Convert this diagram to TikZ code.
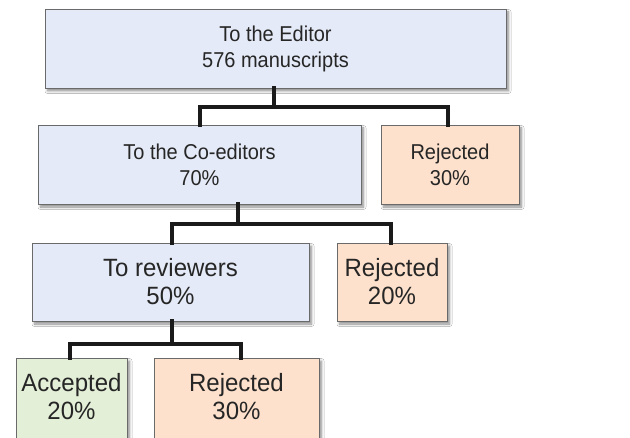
\documentclass[tikz,border=0pt]{standalone}
\usepackage{fontspec}
\setmainfont{Liberation Sans}
\newfontfamily\condtop[FakeStretch=0.93]{Liberation Sans}
\newfontfamily\condlow[FakeStretch=0.96]{Liberation Sans}
\usetikzlibrary{shadows.blur}
\definecolor{boxblue}{HTML}{E4EAF7}
\definecolor{boxorange}{HTML}{FDE1CC}
\definecolor{boxgreen}{HTML}{E3EFD6}
\definecolor{boxline}{HTML}{6A6A6A}
\definecolor{txt}{HTML}{262626}
\definecolor{conncol}{HTML}{1A1A1A}
\tikzset{
  flowbox/.style={draw=boxline, line width=0.9pt, inner sep=0pt, align=center,
    text=txt, blur shadow={shadow xshift=2.5pt, shadow yshift=-3pt, shadow blur steps=6, shadow opacity=45, shadow blur radius=2.5pt}},
  big/.style={font=\condtop\fontsize{21.5}{26}\selectfont},
  bigger/.style={font=\condlow\fontsize{25}{28}\selectfont},
  bluebox/.style={flowbox, fill=boxblue},
  orangebox/.style={flowbox, fill=boxorange},
  greenbox/.style={flowbox, fill=boxgreen},
  conn/.style={draw=conncol, line width=4pt, line cap=rect}
}
\begin{document}
\begin{tikzpicture}[x=1pt,y=-1pt]
\useasboundingbox (0,0) rectangle (630,438);
\fill[white] (0,0) rectangle (630,438);
\clip (0,0) rectangle (630,438);
\node[bluebox,big,minimum width=461pt,minimum height=79pt] (ed) at (275.5,48.5) {To the Editor\\576 manuscripts};
\node[bluebox,big,minimum width=323pt,minimum height=79pt] (coed) at (199.5,164.5) {To the Co-editors\\70\%};
\node[orangebox,big,minimum width=138pt,minimum height=79pt] (rej1) at (450,164.5) {Rejected\\30\%};
\node[bluebox,bigger,minimum width=277pt,minimum height=78pt] (rev) at (170.5,282) {To reviewers\\50\%};
\node[orangebox,bigger,minimum width=110pt,minimum height=78pt] (rej2) at (392,282) {Rejected\\20\%};
\node[greenbox,bigger,minimum width=111pt,minimum height=84pt,text depth=6.5pt] (acc) at (71.5,400) {Accepted\\20\%};
\node[orangebox,bigger,minimum width=165pt,minimum height=84pt,text depth=6.5pt] (rej3) at (236.5,400) {Rejected\\30\%};
% level 1
\draw[conn] ([xshift=-1.5pt]ed.south) -- ++(0,19) coordinate (b1);
\draw[conn] (coed.north) |- (b1) -| ([xshift=-2pt]rej1.north);
% level 2
\draw[conn] ([xshift=38.5pt]coed.south) -- ++(0,20) coordinate (b2);
\draw[conn] ([xshift=1.5pt]rev.north) |- (b2) -| ([xshift=-1pt]rej2.north);
% level 3
\draw[conn] ([xshift=1.5pt]rev.south) -- ++(0,23) coordinate (b3);
\draw[conn] ([xshift=-1.5pt]acc.north) |- (b3) -| ([xshift=4.5pt]rej3.north);
\end{tikzpicture}
\end{document}
